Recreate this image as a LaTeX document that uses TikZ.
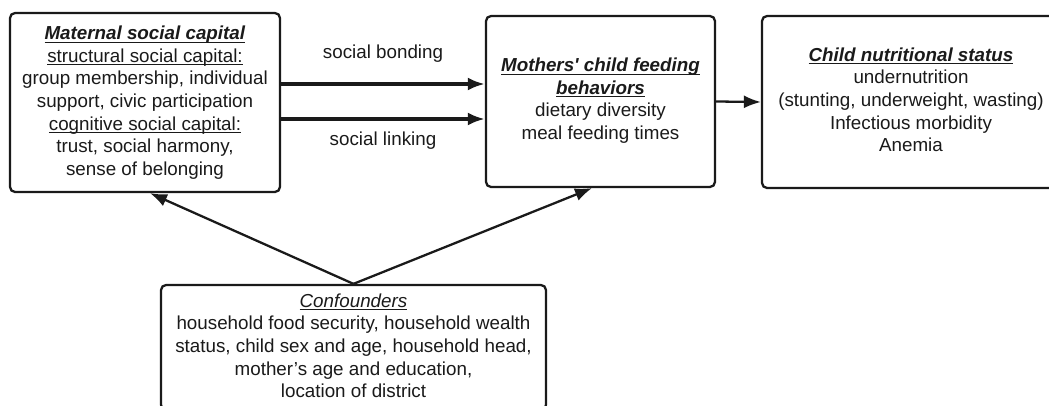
\documentclass[tikz,border=0pt]{standalone}
\usepackage{fontspec}
\setmainfont{Liberation Sans}
\usetikzlibrary{arrows.meta}
\definecolor{ink}{HTML}{1A1A1A}
\newcommand{\uln}[1]{\underline{\smash{#1}}}

\begin{document}
\begin{tikzpicture}[x=0.02cm,y=-0.02cm,>={Latex[length=0.34cm,width=0.26cm]}]
    \tikzstyle{box}=[draw=ink,line width=1.3pt,rounded corners=0.1cm,fill=white,align=center,text=ink,font=\fontsize{10.7}{12.9}\selectfont,inner sep=0pt]
    \tikzstyle{link}=[->,draw=ink,line width=1.3pt]
    \tikzstyle{tag}=[text=ink,font=\fontsize{10.7}{12.9}\selectfont,inner sep=0pt]
    \useasboundingbox (0,0) rectangle (1049,406);

    % the four boxes
    \node[box,minimum width=5.4cm,minimum height=3.58cm] (capital) at (145,102.5)
        {\rule{0pt}{7.9pt}\uln{\textbf{\textit{Maternal social capital}}}\\
         \uln{structural social capital:}\\
         group membership, individual\\
         support, civic participation\\
         \uln{cognitive social capital:}\\
         trust, social harmony,\\
         sense of belonging};
    \node[box,minimum width=4.58cm,minimum height=3.42cm] (feeding) at (600.5,101.5)
        {\rule{0pt}{6.8pt}\uln{\textbf{\textit{Mothers\textquotesingle{} child feeding}}}\\
         \uln{\textbf{\textit{behaviors}}}\\
         dietary diversity\\
         meal feeding times};
    \node[box,minimum width=5.96cm,minimum height=3.44cm] (status) at (911,102)
        {\rule{0pt}{5.1pt}\uln{\textbf{\textit{Child nutritional status}}}\\
         undernutrition\\
         (stunting, underweight, wasting)\\
         Infectious morbidity\\
         Anemia};
    \node[box,minimum width=7.7cm,minimum height=2.5cm] (confounders) at (353.5,347.5)
        {\rule{0pt}{5.7pt}\uln{\textit{Confounders}}\\
         household food security, household wealth\\
         status, child sex and age, household head,\\
         mother’s age and education,\\
         location of district};

    % connectors
    \draw[link,line width=2pt] ([yshift=0.37cm]capital.east) -- ([yshift=0.37cm]capital.east -| feeding.west)
        node[tag,midway,yshift=0.6cm] (bonding) {social bonding};
    \draw[link,line width=2pt] ([yshift=-0.33cm]capital.east) -- ([yshift=-0.33cm]capital.east -| feeding.west)
        node[tag,midway,yshift=-0.44cm] (linking) {social linking};
    \draw[link] (feeding.east) -- (status.west);
    \draw[link] (confounders.north) -- ([xshift=0.1cm]capital.south);
    \draw[link] (confounders.north) -- ([xshift=-0.17cm]feeding.south);
\end{tikzpicture}
\end{document}
